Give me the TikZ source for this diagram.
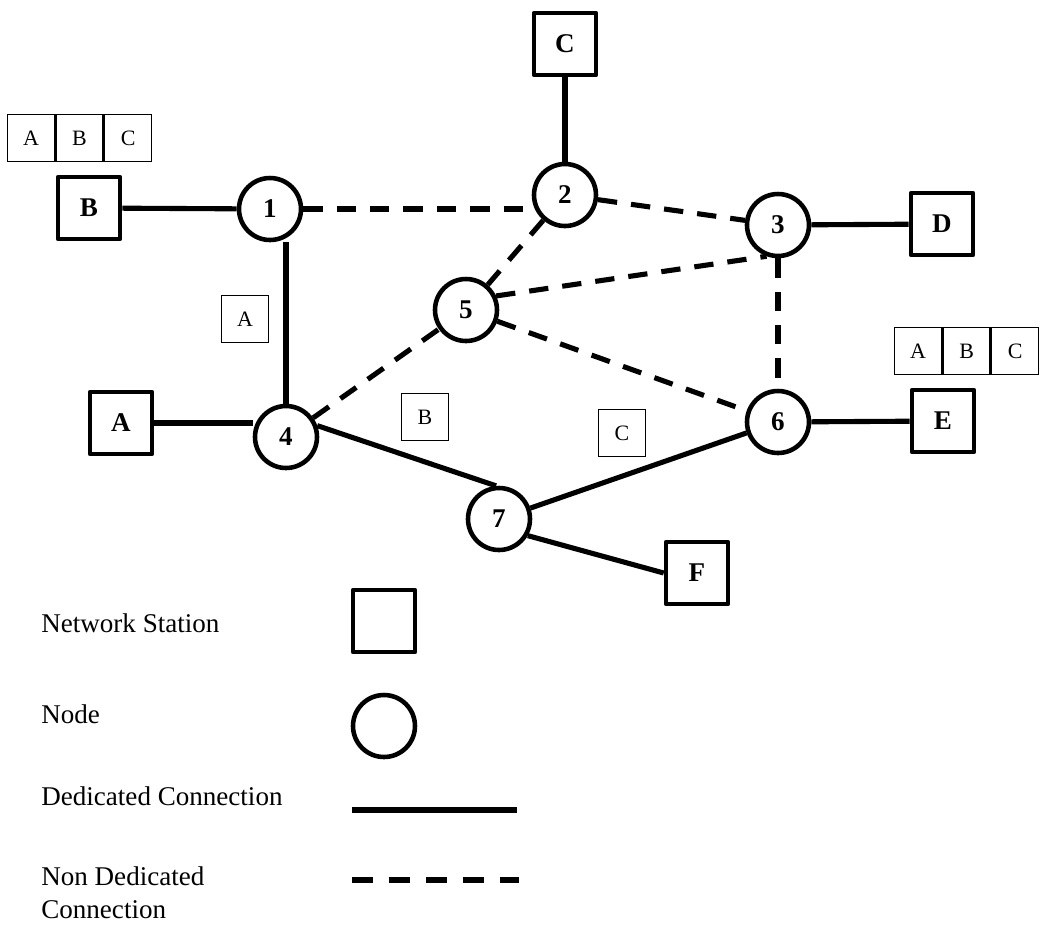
\documentclass[tikz,border=0pt]{standalone}
\usepackage{fontspec}
\setmainfont{Liberation Serif}
\usetikzlibrary{positioning}
\begin{document}
\begin{tikzpicture}[x=0.02cm,y=-0.02cm]
\tikzstyle{every node}=[font=\fontsize{15.4}{18.7}\selectfont]
\tikzstyle{station}=[draw, line width=2.6pt, line join=round, minimum size=1.24cm, inner sep=0pt, fill=white, font=\fontsize{15.4}{18.7}\selectfont\bfseries]
\tikzstyle{switch}=[station, circle]
\tikzstyle{msgbox}=[draw, line width=0.9pt, minimum size=0.94cm, inner sep=0pt, fill=white, font=\fontsize{12.5}{14}\selectfont]
\tikzstyle{legendtext}=[anchor=base west, inner sep=0pt, align=left]
\tikzstyle{dedicated}=[line width=2.9pt]
\tikzstyle{nondedicated}=[line width=2.9pt, dash pattern=on 11pt off 8pt]
\useasboundingbox (0,0) rectangle (1046,931);
% stations
\node[station] (C) at (565,44) {C};
\node[station] (B) at (89,208) {B};
\node[station] (D) at (942,224) {D};
\node[station] (A) at (121,423) {A};
\node[station] (E) at (943,421) {E};
\node[station] (F) at (697,573) {F};
% nodes
\node[switch] (n1) at (270,209) {1};
\node[switch] (n2) at (565,195) {2};
\node[switch] (n3) at (778,225) {3};
\node[switch] (n5) at (466,310) {5};
\node[switch] (n4) at (286,437) {4};
\node[switch] (n6) at (778,422) {6};
\node[switch] (n7) at (499,519) {7};
% messages
\node[msgbox] (bufA) at (31,138) {A};
\node[msgbox, right=0pt of bufA] (bufB) {B};
\node[msgbox, right=0pt of bufB] (bufC) {C};
\node[msgbox] (bufE1) at (918,351) {A};
\node[msgbox, right=0pt of bufE1] (bufE2) {B};
\node[msgbox, right=0pt of bufE2] (bufE3) {C};
\node[msgbox] (msgA) at (245,319) {A};
\node[msgbox] (msgB) at (425,417) {B};
\node[msgbox] (msgC) at (622,433) {C};
% dedicated lines
\draw[dedicated] (B) -- (n1);
\draw[dedicated] (C) -- (n2);
\draw[dedicated] (n3) -- (D);
\draw[dedicated] (n6) -- (E);
\draw[dedicated] (A.east) -- (A.east -| n4.west);
\draw[dedicated] (n1.south -| n4.north) -- (n4.north);
\draw[dedicated] (n4.20) -- (n7.95);
\draw[dedicated] (n7) -- (n6);
\draw[dedicated] (n7.-30) -- (F.west);
% non dedicated lines
\draw[nondedicated] (n1.east) -- (n1.east -| n2.west);
\draw[nondedicated] (n2) -- (n3);
\draw[nondedicated] (n2) -- (n5);
\draw[nondedicated] (n5.25) -- (n3.250);
\draw[nondedicated] (n5) -- (n6);
\draw[nondedicated] (n3) -- (n6);
\draw[nondedicated] (n4) -- (n5);
% legend
\node[legendtext] (keyStation) at (41,632) {Network Station};
\node[station] (symStation) at (384,621) {};
\node[legendtext] (keyNode) at (41,723) {Node};
\node[switch] (symNode) at (384,726) {};
\node[legendtext] (keyDed) at (41,805) {Dedicated Connection};
\coordinate (dedL) at (352,810);
\coordinate (dedR) at (517,810);
\draw[dedicated] (dedL) -- (dedR);
\node[legendtext] (keyNonDed) at (41,918) {Non Dedicated\\Connection};
\coordinate (nonL) at (352,880);
\coordinate (nonR) at (519,880);
\draw[nondedicated, dash pattern=on 12pt off 9pt] (nonL) -- (nonR);
\end{tikzpicture}
\end{document}
